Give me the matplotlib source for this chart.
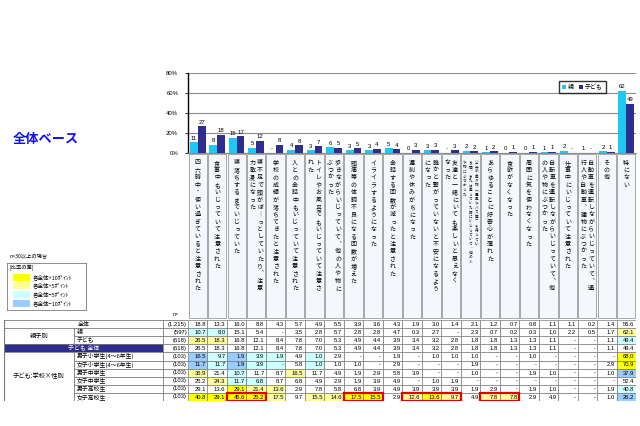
import matplotlib
matplotlib.use('Agg')
import matplotlib.pyplot as plt
from matplotlib.patches import Rectangle
from matplotlib.lines import Line2D
import numpy as np

plt.rcParams['font.family'] = ['Noto Sans CJK JP', 'DejaVu Sans']

D = None  # '-' in the table

# category labels, each split into vertical columns (right to left)
labels = [
    ['四六時中・使い過ぎていると注意された'],
    ['食事中もいじっていて注意された'],
    ['寝落ちするまでいじっていた'],
    ['寝不足で頭がぼーっとしていたり、注意', '力散漫になった'],
    ['学校の成績が落ちてきたと注意された'],
    ['人との会話中もいじっていて注意された'],
    ['トイレやお風呂でもいじっていて注意さ', 'れた'],
    ['歩きながらいじっていて、他の人や物に', 'ぶつかった'],
    ['頭痛等の体調不良になる回数が増えた'],
    ['イライラするようになった'],
    ['会話する回数が減ったと注意された'],
    ['遅刻や休みがちになった'],
    ['誰かと繋がっていないと不安になるよう', 'になった'],
    ['友達と一緒にいても楽しいと思えなく', 'なった'],
    ['公共の乗り物（電車やバス等）を待ってい', 'る間、または乗っていた時にいじっていて、他の人', 'や物にぶつかった'],
    ['あらゆることに好奇心が薄れた'],
    ['食欲がなくなった'],
    ['周囲に気を使わなくなった'],
    ['自転車を運転しながらいじっていて、他', 'の人や物にぶつかった'],
    ['仕事中にいじっていて注意された'],
    ['自動車を運転しながらいじっていて、通', '行人や自動車、建物にぶつかった'],
    ['その他'],
    ['特にない'],
]

row_names = ['全体', '親', '子ども', '子ども 全体', '男子小学生(4～6年生)', '女子小学生(4～6年生)',
             '男子中学生', '女子中学生', '男子高校生', '女子高校生']
row_n = ['(1,215)', '(597)', '(618)', '(618)', '(103)', '(103)', '(103)', '(103)', '(103)', '(103)']

zentai = [18.8, 13.3, 16.0, 8.8, 4.3, 5.7, 4.9, 5.5, 3.9, 3.6, 4.3, 1.9, 3.0, 1.4, 2.1, 1.2, 0.7, 0.8, 1.1, 1.1, 0.2, 1.4, 55.6]
oya = [10.7, 8.0, 15.1, 5.4, D, 3.5, 2.8, 5.7, 2.8, 2.8, 4.7, 0.3, 2.7, D, 2.3, 0.7, 0.2, 0.3, 1.0, 2.2, 0.5, 1.7, 62.1]
kodomo = [26.5, 18.3, 16.8, 12.1, 8.4, 7.8, 7.0, 5.3, 4.9, 4.4, 3.9, 3.4, 3.2, 2.8, 1.8, 1.8, 1.3, 1.3, 1.1, D, D, 1.1, 49.4]
dan_sho = [16.5, 9.7, 1.9, 3.9, 1.9, 4.9, 1.0, 2.9, D, D, 1.9, D, 1.0, 1.0, 1.0, D, D, 1.0, D, D, D, D, 68.0]
jo_sho = [11.7, 11.7, 1.9, 3.9, D, 5.8, 1.0, 1.0, 1.0, D, 2.9, D, D, D, 1.9, D, D, D, D, D, D, 2.9, 70.9]
dan_chu = [35.9, 21.4, 10.7, 11.7, 8.7, 16.5, 11.7, 4.9, 1.9, 2.9, 5.8, 3.9, D, D, 1.0, D, D, 1.9, 1.0, D, D, 1.0, 37.9]
jo_chu = [25.2, 24.3, 11.7, 6.8, 8.7, 6.8, 4.9, 2.9, 1.9, 3.9, 4.9, D, 1.0, 1.9, D, D, D, D, D, D, D, D, 52.4]
dan_ko = [29.1, 13.6, 29.1, 21.4, 13.6, 2.9, 7.8, 5.8, 6.8, 3.9, 4.9, 3.9, 3.9, 3.9, 1.9, 2.9, D, 1.9, 1.0, D, D, 1.9, 40.8]
jo_ko = [40.8, 29.1, 45.6, 25.2, 17.5, 9.7, 15.5, 14.6, 17.5, 15.5, 2.9, 12.6, 13.6, 9.7, 4.9, 7.8, 7.8, 2.9, 4.9, D, D, 1.0, 26.2]

rows = [zentai, oya, kodomo, kodomo, dan_sho, jo_sho, dan_chu, jo_chu, dan_ko, jo_ko]
# which row each row is compared against (None = no colouring)
base_of = [None, 0, 0, None, 3, 3, 3, 3, 3, 3]
# red boxes on the last row (first col, last col)
red_groups = [(2, 3), (8, 9), (11, 13), (15, 16)]

C_OYA = '#1EC8F5'
C_KO = '#2E2E8F'
C_P10, C_P5, C_M5, C_M10 = '#FFFF00', '#FFFF99', '#CCFFFF', '#99CCFF'
NUM_FONT = ['Liberation Sans', 'DejaVu Sans']

W, H = 640, 426
fig = plt.figure(figsize=(6.4, 4.26), dpi=100)
fig.patch.set_facecolor('white')


def px_axes(x0, y0, x1, y1):
    return fig.add_axes([x0 / W, 1 - y1 / H, (x1 - x0) / W, (y1 - y0) / H])


def fmt_int(v):
    return '-' if v is None else str(int(np.floor(v + 0.5)))


def fmt_pct(v):
    return '-' if v is None else '%.1f' % v


ncat = len(labels)
idx = np.arange(ncat)
X0, X1 = 188, 636

# ---- bar chart
ax = px_axes(X0, 73, X1, 153)
h_oya = [0 if v is None else v for v in oya]
h_ko = [0 if v is None else v for v in kodomo]
b1 = ax.bar(idx - 0.2, h_oya, width=0.4, color=C_OYA, zorder=3)
b2 = ax.bar(idx + 0.2, h_ko, width=0.4, color=C_KO, zorder=3)
for i in range(ncat):
    ax.text(idx[i] - 0.2, h_oya[i] + 1.5, fmt_int(oya[i]), ha='center', va='bottom',
            fontsize=4.3, family=NUM_FONT)
    ax.text(idx[i] + 0.2, h_ko[i] + 1.5, fmt_int(kodomo[i]), ha='center', va='bottom',
            fontsize=4.3, family=NUM_FONT)
ax.set_xlim(-0.5, ncat - 0.5)
ax.set_ylim(0, 80)
ax.set_yticks([0, 20, 40, 60, 80])
ax.set_yticklabels(['0%', '20%', '40%', '60%', '80%'], fontsize=4.3, family=NUM_FONT)
ax.set_xticks([])
ax.tick_params(axis='y', length=2, width=0.6, pad=5)
ax.yaxis.grid(True, color='#8C8C8C', lw=0.8, zorder=0)
for s in ['top', 'right']:
    ax.spines[s].set_visible(False)
ax.spines['left'].set_linewidth(1.0)
ax.spines['bottom'].set_color('#8C8C8C')
ax.set_facecolor('white')
ax.legend([b1, b2], ['親', '子ども'], loc='upper right', bbox_to_anchor=(609 / W, 1 - 78 / H),
          bbox_transform=fig.transFigure, ncol=2, fontsize=4.3, frameon=True, fancybox=False,
          edgecolor='black', handlelength=0.7, handleheight=0.7, handletextpad=0.3,
          columnspacing=0.8, borderpad=0.5).get_frame().set_linewidth(1.0)

# ---- vertical category labels
vert = {'ー': '︱', '、': '︑', '（': '︵', '）': '︶'}
axl = px_axes(X0, 153, X1, 319)
axl.set_xlim(-0.5, ncat - 0.5)
axl.set_ylim(166, 0)
axl.axis('off')
for i, cols in enumerate(labels):
    axl.add_patch(Rectangle((i - 0.47, 1), 0.94, 164, facecolor='#F4F8FC', edgecolor='#9A9A9A', lw=0.6))
    n = len(cols)
    if n == 1:
        xs, fs, pitch = [i], 4.3, 7.4
    elif n == 2:
        xs, fs, pitch = [i + 0.2, i - 0.2], 4.3, 7.4
    else:
        xs, fs, pitch = [i + 0.3, i, i - 0.3], 2.6, 4.5
    for x, col in zip(xs, cols):
        for k, ch in enumerate(col):
            axl.text(x, 10 + k * pitch, vert.get(ch, ch), ha='center', va='center', fontsize=fs)

# ---- table, row headers
TY0, TY1 = 320, 401
nrow = len(row_names)
axh = px_axes(4, TY0, X0, TY1)
axh.set_xlim(0, 184)
axh.set_ylim(nrow, 0)
axh.axis('off')
GC, SC, NC = 70, 159, 184
lc = '#7A7A7A'
axh.add_patch(Rectangle((0, 3), SC, 1, facecolor='#2E2E8F', edgecolor='none'))
for r in range(nrow + 1):
    if r in (0, 1, 3, 4, nrow):
        axh.plot([0, NC], [r, r], color=lc, lw=0.6)
    else:
        axh.plot([GC, NC], [r, r], color=lc, lw=0.6)
axh.plot([0, 0], [0, nrow], color=lc, lw=0.8)
axh.plot([SC, SC], [0, nrow], color=lc, lw=0.6)
axh.plot([NC, NC], [0, nrow], color=lc, lw=0.6)
axh.plot([GC, GC], [1, 3], color=lc, lw=0.6)
axh.plot([GC, GC], [4, nrow], color=lc, lw=0.6)
axh.text(SC / 2, 0.5, row_names[0], ha='center', va='center', fontsize=4.3)
axh.text(SC / 2, 3.5, row_names[3], ha='center', va='center', fontsize=4.3, color='white')
axh.text(GC / 2, 2.0, '親子別', ha='center', va='center', fontsize=4.5)
axh.text(GC / 2, 7.0, '子ども:学校×性別', ha='center', va='center', fontsize=4.5)
for r in [1, 2] + list(range(4, nrow)):
    axh.text(GC + 3, r + 0.5, row_names[r], ha='left', va='center', fontsize=4.2)
for r in range(nrow):
    axh.text(NC - 1, r + 0.5, row_n[r], ha='right', va='center', fontsize=4.2, family=NUM_FONT)
fig.text(173 / W, 1 - 315 / H, 'n=', fontsize=3.8, va='center', family=NUM_FONT)

# ---- table, values
axt = px_axes(X0, TY0, X1, TY1)
axt.set_xlim(-0.5, ncat - 0.5)
axt.set_ylim(nrow, 0)
axt.axis('off')
for r, vals in enumerate(rows):
    base = base_of[r]
    for j, v in enumerate(vals):
        fc = 'white'
        if base is not None:
            d = round((v or 0) - (rows[base][j] or 0), 1)
            if d >= 10:
                fc = C_P10
            elif d >= 5:
                fc = C_P5
            elif d <= -10:
                fc = C_M10
            elif d <= -5:
                fc = C_M5
        axt.add_patch(Rectangle((j - 0.5, r), 1, 1, facecolor=fc, edgecolor=lc, lw=0.5))
        axt.text(j + 0.42, r + 0.55, fmt_pct(v), ha='right', va='center', fontsize=4.2, family=NUM_FONT)
for a, b in red_groups:
    axt.add_patch(Rectangle((a - 0.5, nrow - 1), b - a + 1, 1, facecolor='none',
                            edgecolor='#E00000', lw=1.6, zorder=5))

# ---- title and colour legend
fig.text(13 / W, 1 - 139 / H, '全体ベース', fontsize=9.5, fontweight='bold', color='#1010F0', va='center')
fig.text(10 / W, 1 - 256 / H, 'n=30以上の場合', fontsize=3.8, va='center')
axg = px_axes(7, 263, 86, 310)
axg.set_xlim(0, 79)
axg.set_ylim(47, 0)
axg.set_xticks([])
axg.set_yticks([])
for s in axg.spines.values():
    s.set_color('#7A7A7A')
    s.set_linewidth(0.6)
axg.text(2, 5, '[比率の差]', fontsize=3.8, va='center')
leg_items = [(C_P10, '各全体+10ﾎﾟｲﾝﾄ'), (C_P5, '各全体+5ﾎﾟｲﾝﾄ'),
             (C_M5, '各全体−5ﾎﾟｲﾝﾄ'), (C_M10, '各全体−10ﾎﾟｲﾝﾄ')]
for k, (c, t) in enumerate(leg_items):
    yc = 14 + k * 8.7
    axg.add_patch(Rectangle((6, yc - 3.5), 17, 7, facecolor=c, edgecolor='none'))
    axg.text(26, yc, t, fontsize=4.0, va='center')

fig.savefig('out.png', dpi=100)
